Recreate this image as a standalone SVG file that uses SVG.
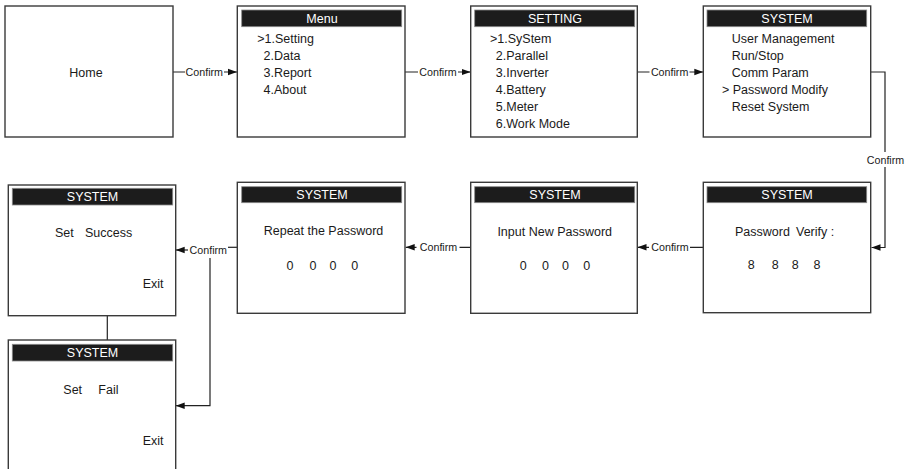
<svg xmlns="http://www.w3.org/2000/svg" width="914" height="469" viewBox="0 0 914 469">
<style>
.box{fill:#fff;stroke:#3a3a3a;stroke-width:1.4}
.hdr{fill:#1c1c1c;stroke:#8a8a8a;stroke-width:0.8}
.ht{font-family:"Liberation Sans",Arial,sans-serif;font-size:12.5px;fill:#fff;text-anchor:middle}
.t{font-family:"Liberation Sans",Arial,sans-serif;font-size:12.5px;fill:#1a1a1a}
.c{text-anchor:middle}
.ln{fill:none;stroke:#222;stroke-width:1.2}
.lb{font-family:"Liberation Sans",Arial,sans-serif;font-size:10.7px;fill:#1a1a1a;text-anchor:middle}
.bg{fill:#fff}
</style>
<defs>
<marker id="ah" markerUnits="userSpaceOnUse" markerWidth="10" markerHeight="8" refX="9" refY="4" orient="auto">
<path d="M0,0.8 L9,4 L0,7.2 Z" fill="#111"/>
</marker>
</defs>
<g id="connectors">
<line class="ln" x1="173" y1="72" x2="237" y2="72" marker-end="url(#ah)"/>
<rect class="bg" x="185" y="65" width="39" height="14"/>
<text class="lb" x="204.3" y="75.8">Confirm</text>
<line class="ln" x1="405" y1="72" x2="470.7" y2="72" marker-end="url(#ah)"/>
<rect class="bg" x="418" y="65" width="40" height="14"/>
<text class="lb" x="438" y="75.8">Confirm</text>
<line class="ln" x1="637" y1="72" x2="703.3" y2="72" marker-end="url(#ah)"/>
<rect class="bg" x="649.5" y="65" width="40" height="14"/>
<text class="lb" x="669.6" y="75.8">Confirm</text>
<polyline class="ln" points="870.7,72 885,72 885,247.5 871.5,247.5" marker-end="url(#ah)"/>
<rect class="bg" x="864" y="152" width="42" height="15"/>
<text class="lb" x="885.5" y="163.5">Confirm</text>
<line class="ln" x1="703.3" y1="247.3" x2="637.5" y2="247.3" marker-end="url(#ah)"/>
<rect class="bg" x="649" y="240" width="41" height="14"/>
<text class="lb" x="670" y="251">Confirm</text>
<line class="ln" x1="470.7" y1="247.3" x2="405.7" y2="247.3" marker-end="url(#ah)"/>
<rect class="bg" x="416.5" y="240" width="43" height="14"/>
<text class="lb" x="438.5" y="251">Confirm</text>
<polyline class="ln" points="237.3,247.3 228,247.3"/>
<line class="ln" x1="188" y1="250" x2="175.7" y2="250" marker-end="url(#ah)"/>
<text class="lb" x="208.3" y="253.7">Confirm</text>
<polyline class="ln" points="210,258 210,405.7 175.7,405.7" marker-end="url(#ah)"/>
<line class="ln" x1="107.3" y1="315.7" x2="107.3" y2="340"/>
</g>
<g id="home">
<rect class="box" x="5" y="6" width="168" height="131"/>
<text class="t c" x="86" y="76.5">Home</text>
</g>
<g id="menu">
<rect class="box" x="237.3" y="6" width="167.7" height="131"/>
<rect class="hdr" x="241.7" y="10" width="160" height="16.7"/>
<text class="ht" x="322" y="23">Menu</text>
<text class="t" x="257.3" y="42.5">&gt;1.Setting</text>
<text class="t" x="263.5" y="59.5">2.Data</text>
<text class="t" x="263.5" y="76.5">3.Report</text>
<text class="t" x="263.5" y="93.5">4.About</text>
</g>
<g id="setting">
<rect class="box" x="470.7" y="6" width="166.6" height="131"/>
<rect class="hdr" x="474.7" y="10" width="160" height="16.7"/>
<text class="ht" x="555" y="23">SETTING</text>
<text class="t" x="490" y="42.5">&gt;1.SyStem</text>
<text class="t" x="495.8" y="59.5">2.Parallel</text>
<text class="t" x="495.8" y="76.5">3.Inverter</text>
<text class="t" x="495.8" y="93.5">4.Battery</text>
<text class="t" x="495.8" y="110.5">5.Meter</text>
<text class="t" x="495.8" y="127.5">6.Work Mode</text>
</g>
<g id="system-menu">
<rect class="box" x="703.3" y="6" width="167.4" height="131"/>
<rect class="hdr" x="707" y="10" width="159.7" height="16.7"/>
<text class="ht" x="787" y="23">SYSTEM</text>
<text class="t" x="731.7" y="42.5">User Management</text>
<text class="t" x="731.7" y="59.5">Run/Stop</text>
<text class="t" x="731.7" y="76.5">Comm Param</text>
<text class="t" x="722" y="93.5" xml:space="preserve">&gt; Password Modify</text>
<text class="t" x="731.7" y="110.5">Reset System</text>
</g>
<g id="password-verify">
<rect class="box" x="703.3" y="182.3" width="167.4" height="130.4"/>
<rect class="hdr" x="707" y="186.7" width="159.7" height="16"/>
<text class="ht" x="787" y="199.3">SYSTEM</text>
<text class="t" y="235.5"><tspan x="735">Password</tspan> <tspan x="796">Verify :</tspan></text>
<text class="t c" y="269"><tspan x="753">8</tspan> <tspan x="777">8</tspan> <tspan x="797">8</tspan> <tspan x="817">8</tspan></text>
</g>
<g id="input-new-password">
<rect class="box" x="470.7" y="182.3" width="166.6" height="131"/>
<rect class="hdr" x="474.7" y="186.7" width="160" height="16"/>
<text class="ht" x="555" y="199.3">SYSTEM</text>
<text class="t c" x="554.7" y="235.5">Input New Password</text>
<text class="t c" y="269.5"><tspan x="525">0</tspan> <tspan x="547.3">0</tspan> <tspan x="567.3">0</tspan> <tspan x="586.7">0</tspan></text>
</g>
<g id="repeat-password">
<rect class="box" x="237.3" y="182.3" width="167.7" height="131"/>
<rect class="hdr" x="241.7" y="186.7" width="160" height="16"/>
<text class="ht" x="322" y="199.3">SYSTEM</text>
<text class="t c" x="323.5" y="235.2">Repeat the Password</text>
<text class="t c" y="269.5"><tspan x="291.7">0</tspan> <tspan x="314.7">0</tspan> <tspan x="334.7">0</tspan> <tspan x="354.7">0</tspan></text>
</g>
<g id="set-success">
<rect class="box" x="8.3" y="185" width="167.4" height="130.7"/>
<rect class="hdr" x="12.3" y="188.3" width="160.4" height="16.7"/>
<text class="ht" x="92.5" y="201">SYSTEM</text>
<text class="t" y="236.5"><tspan x="55">Set</tspan> <tspan x="85">Success</tspan></text>
<text class="t" x="142.7" y="287.5">Exit</text>
</g>
<g id="set-fail">
<rect class="box" x="8.3" y="340" width="167.4" height="140"/>
<rect class="hdr" x="12.3" y="344.3" width="160.4" height="16.7"/>
<text class="ht" x="92.5" y="357">SYSTEM</text>
<text class="t" y="393.5"><tspan x="63.3">Set</tspan> <tspan x="98.3">Fail</tspan></text>
<text class="t" x="142.7" y="444.5">Exit</text>
</g>
</svg>
